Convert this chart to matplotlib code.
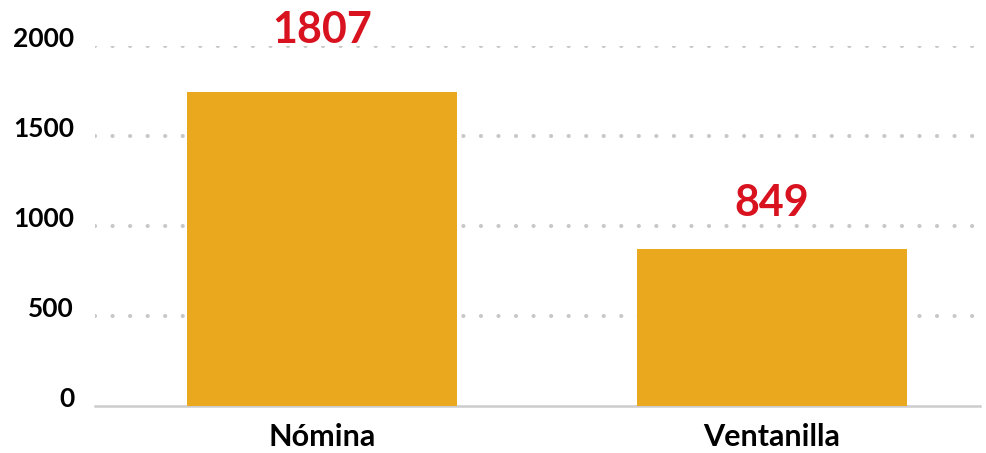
import matplotlib.pyplot as plt
from matplotlib.transforms import ScaledTranslation

categories = ['Nómina', 'Ventanilla']
bar_heights = [1745, 872]      # bar tops as drawn in the picture
labels = [1807, 849]           # numbers printed above the bars
yticks = [0, 500, 1000, 1500, 2000]

plt.rcParams['font.family'] = ['Lato', 'DejaVu Sans']

fig = plt.figure(figsize=(9.87, 4.53), dpi=100)
ax = fig.add_axes([95 / 987, 47 / 453, 885 / 987, 360 / 453])

x = range(len(categories))
ax.bar(x, bar_heights, width=0.6, color='#eaa81f', zorder=3)

for xi, v in zip(x, labels):
    ax.text(xi, v + 170, str(v), ha='center', va='bottom',
            fontsize=31, fontweight='bold', color='#d9121f', zorder=4)

ax.set_xlim(-0.504, 1.462)
ax.set_ylim(0, 2000)
ax.set_yticks(yticks)
ax.set_xticks(list(x))
ax.set_xticklabels(categories)

for t in yticks[1:]:
    ax.axhline(t, color='#c8c8c8', lw=3.0, ls=(0, (0.01, 4.2)),
               dash_capstyle='round', zorder=1)

for s in ['top', 'right', 'left']:
    ax.spines[s].set_visible(False)
ax.spines['bottom'].set_color('#cccccc')
ax.spines['bottom'].set_linewidth(1.8)

ax.tick_params(axis='both', length=0, labelcolor='black')
ax.tick_params(axis='y', pad=15, labelsize=19)
ax.tick_params(axis='x', pad=12, labelsize=22)
for lbl in ax.get_xticklabels() + ax.get_yticklabels():
    lbl.set_fontweight('bold')

# y labels sit a little above their grid lines
shift = ScaledTranslation(0, 9 / 100, fig.dpi_scale_trans)
for lbl in ax.get_yticklabels():
    lbl.set_transform(lbl.get_transform() + shift)

fig.savefig('out.png', dpi=100)
